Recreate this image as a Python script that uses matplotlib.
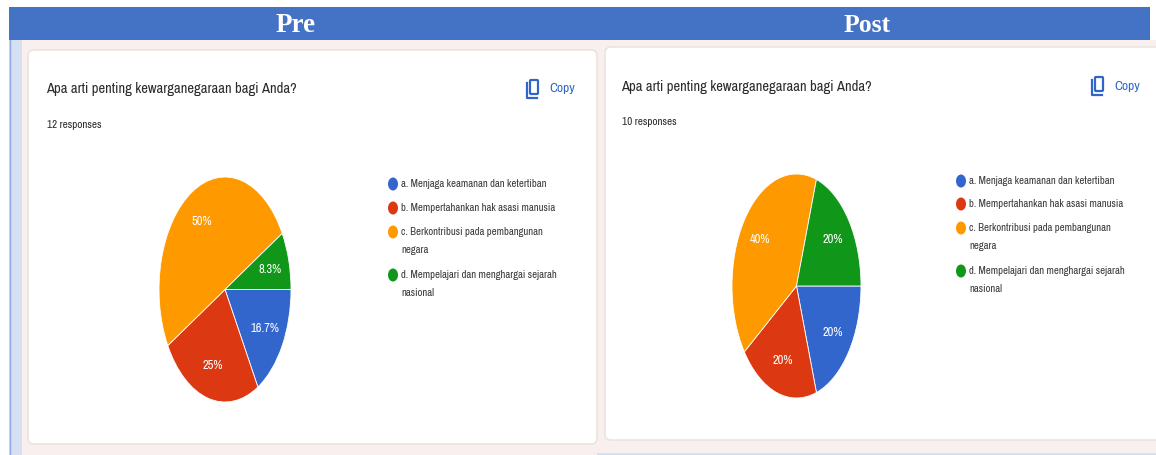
#!/usr/bin/env python3
import matplotlib

matplotlib.use("Agg")
import matplotlib.pyplot as plt
from matplotlib.patches import Ellipse, FancyBboxPatch, Rectangle

W, H = 1156, 455
NARROW = ["Archivo Narrow", "DejaVu Sans"]

question = "Apa arti penting kewarganegaraan bagi Anda?"
options = [
    "a. Menjaga keamanan dan ketertiban",
    "b. Mempertahankan hak asasi manusia",
    "c. Berkontribusi pada pembangunan\nnegara",
    "d. Mempelajari dan menghargai sejarah\nnasional",
]
pre_values = [16.7, 25, 50, 8.3]
post_values = [20, 20, 40, 20]
colors = ["#3366cc", "#dc3912", "#ff9900", "#109618"]
BAR = "#4472c4"
STRIP = "#d6e0f3"
PAGE = "#f8efee"
COPY = "#2f66c8"
INK = "#2b2b2b"

fig = plt.figure(figsize=(W / 100, H / 100), dpi=100, facecolor="white")
bg = fig.add_axes([0, 0, 1, 1])
bg.set_xlim(0, W)
bg.set_ylim(H, 0)
bg.axis("off")


def pie(values, left, right, top, bottom):
    ax = fig.add_axes([left / W, 1 - bottom / H, (right - left) / W, (bottom - top) / H])
    ax.pie(
        values,
        colors=colors,
        startangle=0,
        counterclock=False,
        radius=1,
        autopct=lambda p: f"{round(p, 1):g}%",
        pctdistance=0.7,
        wedgeprops=dict(edgecolor="white", linewidth=0.6),
        textprops=dict(color="white", fontsize=9, family=NARROW),
    )
    ax.set_aspect("auto")
    ax.set_xlim(-1, 1)
    ax.set_ylim(-1, 1)


def card(x0, y0, x1, y1):
    bg.add_patch(
        FancyBboxPatch(
            (x0 + 5, y0 + 5), x1 - x0 - 10, y1 - y0 - 10,
            boxstyle="round,pad=5,rounding_size=6",
            fc="white", ec="#e6e2dc", lw=1,
        )
    )


def copy_icon(x, y):
    bg.add_patch(FancyBboxPatch((x + 3, y), 8, 14, boxstyle="round,pad=0,rounding_size=1",
                                fc="none", ec=COPY, lw=1.6))
    bg.plot([x, x, x + 10], [y + 3, y + 18, y + 18], color=COPY, lw=1.6)
    bg.text(x + 22, y + 9, "Copy", color=COPY, fontsize=9.7, family=NARROW, va="center")


def panel(xq, yq, nresp, yresp, xicon, yicon, xleg, ylegs):
    bg.text(xq - 1, yq, question, color=INK, fontsize=10.5, family=NARROW, va="center")
    bg.text(xq, yresp, nresp, color=INK, fontsize=8, family=NARROW, va="center")
    copy_icon(xicon, yicon)
    for opt, col, yl in zip(options, colors, ylegs):
        bg.add_patch(Ellipse((xleg, yl), 10, 13, fc=col, ec="none"))
        bg.text(xleg + 8, yl - 5, opt, color="#3a3a3a", fontsize=7.7, family=NARROW,
                va="top", linespacing=2.05)


# page background
bg.add_patch(Rectangle((9, 40), W - 9, H - 40, fc=PAGE, ec="none"))
bg.add_patch(Rectangle((9, 40), 13, H - 40, fc=STRIP, ec="none"))
bg.plot([9.5, 9.5], [40, H], color="#8fa8e0", lw=1)
bg.add_patch(Rectangle((597, 453), W - 597, 2, fc=STRIP, ec="none"))

# header bar
bg.add_patch(Rectangle((9, 7), 1141, 33, fc=BAR, ec="none"))
bg.text(296, 26, "Pre", color="white", fontsize=19.5, fontweight="bold",
        family="Liberation Serif", ha="center", va="center")
bg.text(867, 26, "Post", color="white", fontsize=18.5, fontweight="bold",
        family="Liberation Serif", ha="center", va="center")

card(28, 50, 597, 444)
card(605, 47, 1170, 440)

panel(47, 89, "12 responses", 125, 527, 80, 393, [184, 208, 232, 275])
panel(622, 87, "10 responses", 122, 1092, 77, 961, [181, 204, 228, 271])

pie(pre_values, 159, 291, 177, 402)
pie(post_values, 732, 861, 174, 398)

fig.savefig("out.png", dpi=100)
